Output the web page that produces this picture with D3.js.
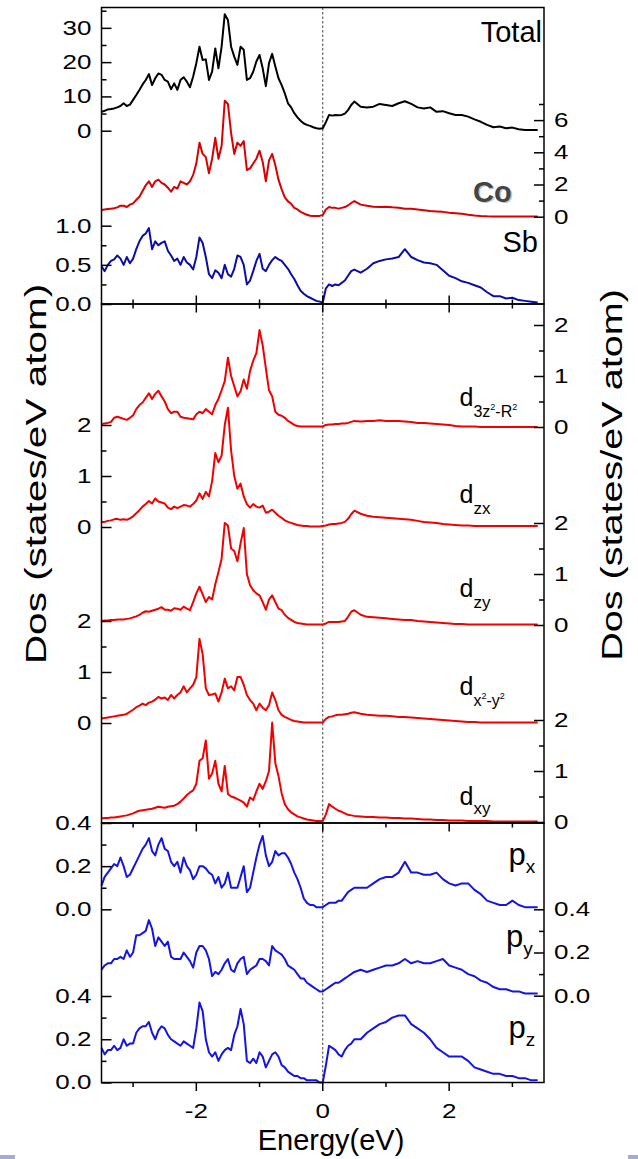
<!DOCTYPE html>
<html>
<head>
<meta charset="utf-8">
<script src="https://cdn.jsdelivr.net/npm/d3@7"></script>
<style>
  body { margin: 0; background: #fff; }
  text { font-family: "Liberation Sans", Arial, sans-serif; }
</style>
</head>
<body>
<div id="chart"></div>
<script>
// energy grid: 0.05 eV steps up to 0.5 eV, 0.1 eV steps beyond
var energy = d3.range(81).map(i => +(-3.5 + i * 0.05).toFixed(2))
    .concat(d3.range(1, 30).map(i => +(0.5 + i * 0.1).toFixed(2)));

// top panel
var total = [5.5, 5.8, 6.2, 6.3, 6.5, 6.8, 7.2, 8.0, 7.2, 7.6,
    9.0, 10.4, 11.9, 13.5, 14.8, 16.5, 13.3, 15.3, 16.7, 16.3,
    14.8, 14.3, 12.1, 13.8, 11.9, 14.8, 15.6, 14.3, 12.7, 15.8,
    19.7, 24.5, 20.6, 20.8, 14.8, 17.2, 24, 18.2, 24.5, 34,
    32.3, 24.5, 21.6, 19.2, 24.5, 23.6, 14.8, 15.3, 17.2, 20.2,
    22.1, 18.2, 13, 19.7, 22.4, 18.7, 15.3, 13.3, 10.9, 8,
    6.8, 5.1, 3.9, 2.9, 2.1, 1.7, 1.4, 1.0, 0.7, 0.6, 0.7,
    2.5, 4.6, 4.4, 4.6, 4.5, 4.6, 5.0, 6.0, 7.5, 8.5,
    7, 6.8, 7, 7.8, 7.5, 7.2, 8, 8.6, 7.8, 6.8, 6.5, 6.8, 5.5, 5.7, 5.1,
    4.6, 4.6, 4.1, 3.3, 2.6, 1.7, 1.0, 1.2, 0.7, 0.9, 0.4, 0.2, 0.2, 0.2];
var co = [0.41, 0.45, 0.48, 0.5, 0.52, 0.58, 0.68, 0.68, 0.6, 0.75,
    0.83, 1.05, 1.24, 1.6, 1.95, 2.2, 1.85, 2.2, 2.3, 2.1,
    2.0, 1.8, 1.55, 1.85, 1.75, 2.2, 2.1, 2.0, 2.2, 2.6,
    3.3, 4.6, 3.9, 3.7, 2.7, 3.6, 4.9, 3.6, 4.4, 7.2,
    7.0, 5.2, 3.9, 4.6, 4.4, 4.7, 2.9, 3.0, 3.3, 3.6,
    4.1, 3.4, 2.2, 3.5, 3.9, 3.2, 2.3, 1.7, 1.2, 0.95,
    0.8, 0.55, 0.45, 0.3, 0.2, 0.12, 0.06, 0.05, 0.05, 0.05, 0.1,
    0.45, 0.6, 0.55, 0.55, 0.5, 0.55, 0.6, 0.7, 0.85, 0.97,
    0.75, 0.68, 0.62, 0.6, 0.62, 0.58, 0.55, 0.5, 0.5, 0.45, 0.4, 0.35, 0.33, 0.3, 0.25,
    0.22, 0.18, 0.12, 0.08, 0.05, 0.03, 0.02, 0.02, 0.01, 0.01, 0.01, 0.01, 0.01, 0.01];
var sb = [0.48, 0.42, 0.5, 0.55, 0.57, 0.62, 0.58, 0.5, 0.6, 0.52,
    0.58, 0.7, 0.8, 0.87, 0.9, 0.97, 0.7, 0.8, 0.75, 0.78,
    0.8, 0.68, 0.62, 0.55, 0.58, 0.5, 0.6, 0.53, 0.5, 0.44,
    0.6, 0.85, 0.78, 0.6, 0.38, 0.33, 0.43, 0.4, 0.33, 0.5,
    0.38, 0.35, 0.45, 0.62, 0.6, 0.5, 0.25, 0.3, 0.42, 0.55,
    0.64, 0.45, 0.42, 0.5, 0.56, 0.6, 0.57, 0.55, 0.5, 0.45,
    0.38, 0.32, 0.24, 0.17, 0.13, 0.1, 0.08, 0.06, 0.04, 0.03, 0.02,
    0.2, 0.25, 0.23, 0.25, 0.24, 0.27, 0.3, 0.36, 0.42, 0.44,
    0.4, 0.45, 0.52, 0.55, 0.57, 0.58, 0.6, 0.7, 0.6, 0.56, 0.53, 0.52, 0.5, 0.43, 0.36,
    0.33, 0.29, 0.27, 0.24, 0.21, 0.15, 0.1, 0.1, 0.07, 0.08, 0.05, 0.04, 0.03, 0.02];

// middle panel: Co d orbitals
var d3z2 = [0.06, 0.07, 0.08, 0.1, 0.18, 0.2, 0.18, 0.16, 0.14, 0.18,
    0.23, 0.35, 0.43, 0.48, 0.57, 0.66, 0.55, 0.65, 0.71, 0.6,
    0.5, 0.35, 0.27, 0.3, 0.3, 0.2, 0.18, 0.17, 0.16, 0.15,
    0.25, 0.3, 0.27, 0.35, 0.3, 0.25, 0.43, 0.55, 0.72, 0.9,
    1.36, 1.0, 0.8, 0.6, 0.7, 0.93, 0.75, 1.1, 1.3, 1.45,
    1.9, 1.6, 1.15, 0.72, 0.6, 0.3, 0.24, 0.22, 0.18, 0.12,
    0.08, 0.04, 0.02, 0.01, 0.01, 0.01, 0.01, 0.01, 0.01, 0.01, 0.01,
    0.04, 0.05, 0.05, 0.06, 0.06, 0.07, 0.07, 0.08, 0.1, 0.12,
    0.11, 0.12, 0.12, 0.13, 0.12, 0.12, 0.12, 0.11, 0.1, 0.08, 0.08, 0.07, 0.06, 0.05, 0.04,
    0.02, 0.01, 0.01, 0.01, 0, 0, 0, 0, 0, 0, 0, 0, 0, 0];
var dzx = [0.1, 0.1, 0.12, 0.13, 0.15, 0.16, 0.14, 0.15, 0.14, 0.17,
    0.21, 0.27, 0.33, 0.4, 0.45, 0.51, 0.46, 0.56, 0.5, 0.48,
    0.46, 0.38, 0.35, 0.4, 0.37, 0.4, 0.43, 0.42, 0.4, 0.45,
    0.52, 0.66, 0.55, 0.69, 0.6, 0.9, 1.45, 1.27, 1.4, 2.0,
    2.34, 1.5, 1.0, 0.75, 0.85, 0.6, 0.45, 0.38, 0.45, 0.4,
    0.38, 0.42, 0.28, 0.3, 0.34, 0.28, 0.22, 0.18, 0.13, 0.1,
    0.08, 0.06, 0.04, 0.03, 0.02, 0.02, 0.01, 0.01, 0.01, 0.01, 0.02,
    0.03, 0.05, 0.06, 0.06, 0.07, 0.08, 0.1, 0.16, 0.25, 0.32,
    0.26, 0.22, 0.2, 0.19, 0.18, 0.17, 0.16, 0.15, 0.14, 0.12, 0.1, 0.09, 0.08, 0.06, 0.05,
    0.04, 0.03, 0.03, 0.02, 0.02, 0.02, 0.02, 0.02, 0.02, 0.02, 0.02, 0.02, 0.02, 0.02];
var dzy = [0.08, 0.09, 0.09, 0.1, 0.1, 0.11, 0.11, 0.11, 0.12, 0.13,
    0.15, 0.17, 0.2, 0.24, 0.27, 0.26, 0.28, 0.3, 0.32, 0.35,
    0.3, 0.3, 0.28, 0.33, 0.32, 0.3, 0.36, 0.32, 0.29, 0.45,
    0.62, 0.75, 0.6, 0.45, 0.55, 0.5, 0.8, 1.04, 1.3, 2.0,
    1.95, 1.5, 1.45, 1.25, 1.6, 1.9, 1.0, 0.78, 0.68, 0.62,
    0.58, 0.45, 0.3, 0.5, 0.58, 0.45, 0.32, 0.29, 0.2, 0.14,
    0.1, 0.06, 0.04, 0.03, 0.02, 0.01, 0.01, 0.01, 0.01, 0.01, 0.01,
    0.03, 0.06, 0.06, 0.06, 0.06, 0.07, 0.08, 0.16, 0.26, 0.29,
    0.2, 0.16, 0.15, 0.14, 0.13, 0.12, 0.11, 0.1, 0.1, 0.08, 0.07, 0.06, 0.05, 0.04, 0.03,
    0.02, 0.02, 0.01, 0.01, 0.01, 0.01, 0.01, 0.01, 0.01, 0.01, 0.01, 0.01, 0.01, 0.01];
var dx2y2 = [0.09, 0.1, 0.11, 0.12, 0.13, 0.14, 0.15, 0.16, 0.18, 0.22,
    0.26, 0.31, 0.34, 0.38, 0.35, 0.4, 0.42, 0.46, 0.51, 0.48,
    0.5, 0.45, 0.55, 0.48, 0.55, 0.6, 0.72, 0.6, 0.68, 0.75,
    0.9, 1.65, 1.35, 0.68, 0.55, 0.56, 0.58, 0.42, 0.6, 0.87,
    0.68, 0.72, 0.64, 0.9, 0.9, 0.75, 0.55, 0.45, 0.38, 0.25,
    0.38, 0.3, 0.25, 0.35, 0.6, 0.45, 0.25, 0.16, 0.12, 0.09,
    0.06, 0.04, 0.03, 0.02, 0.01, 0.01, 0.01, 0.01, 0.01, 0.01, 0.01,
    0.08, 0.12, 0.13, 0.15, 0.16, 0.16, 0.17, 0.18, 0.2, 0.21,
    0.18, 0.16, 0.15, 0.14, 0.14, 0.13, 0.12, 0.12, 0.11, 0.1, 0.09, 0.08, 0.07, 0.06, 0.05,
    0.04, 0.03, 0.02, 0.02, 0.01, 0.01, 0.01, 0.01, 0.01, 0.01, 0.01, 0.01, 0.01, 0.01];
var dxy = [0.07, 0.08, 0.08, 0.09, 0.09, 0.1, 0.11, 0.12, 0.13, 0.15,
    0.17, 0.2, 0.22, 0.23, 0.24, 0.25, 0.26, 0.28, 0.3, 0.29,
    0.28, 0.3, 0.31, 0.32, 0.35, 0.4, 0.46, 0.53, 0.58, 0.62,
    0.75, 1.2, 1.25, 1.6, 0.85, 0.95, 1.2, 0.75, 0.6, 1.1,
    0.55, 0.5, 0.48, 0.45, 0.42, 0.38, 0.3, 0.48, 0.43, 0.6,
    0.75, 0.65, 0.8, 1.0, 1.95, 1.15, 0.9, 0.56, 0.35, 0.25,
    0.19, 0.15, 0.11, 0.09, 0.07, 0.05, 0.04, 0.03, 0.02, 0.02, 0.02,
    0.15, 0.35, 0.3, 0.26, 0.22, 0.2, 0.17, 0.14, 0.13, 0.12,
    0.11, 0.1, 0.1, 0.09, 0.09, 0.08, 0.08, 0.07, 0.07, 0.06, 0.05, 0.05, 0.04, 0.04, 0.03,
    0.03, 0.03, 0.02, 0.02, 0.02, 0.02, 0.01, 0.01, 0.01, 0.01, 0.01, 0.01, 0.01, 0.01];

// bottom panel: Sb p orbitals
var px = [0.11, 0.15, 0.17, 0.19, 0.21, 0.2, 0.24, 0.2, 0.15, 0.16,
    0.19, 0.22, 0.25, 0.28, 0.3, 0.33, 0.27, 0.25, 0.3, 0.33,
    0.28, 0.27, 0.22, 0.2, 0.22, 0.17, 0.24, 0.2, 0.18, 0.14,
    0.16, 0.2, 0.2, 0.19, 0.17, 0.16, 0.12, 0.15, 0.1, 0.12,
    0.17, 0.1, 0.1, 0.1, 0.15, 0.2, 0.08, 0.1, 0.17, 0.24,
    0.3, 0.34, 0.25, 0.2, 0.22, 0.27, 0.25, 0.26, 0.26, 0.24,
    0.21, 0.17, 0.14, 0.1, 0.05, 0.03, 0.02, 0.02, 0.01, 0.01, 0.01,
    0.02, 0.03, 0.03, 0.03, 0.04, 0.04, 0.06, 0.08, 0.09, 0.1,
    0.1, 0.1, 0.12, 0.14, 0.15, 0.15, 0.17, 0.22, 0.17, 0.17, 0.16, 0.16, 0.17, 0.14, 0.12,
    0.11, 0.12, 0.12, 0.09, 0.07, 0.04, 0.03, 0.02, 0.02, 0.04, 0.02, 0.01, 0.01, 0.01];
var py = [0.12, 0.14, 0.15, 0.15, 0.17, 0.17, 0.18, 0.17, 0.21, 0.18,
    0.2, 0.28, 0.28, 0.29, 0.3, 0.35, 0.31, 0.23, 0.27, 0.25,
    0.23, 0.25, 0.18, 0.17, 0.17, 0.17, 0.2, 0.18, 0.16, 0.13,
    0.2, 0.23, 0.23, 0.21, 0.17, 0.09, 0.11, 0.1, 0.12, 0.15,
    0.17, 0.12, 0.11, 0.15, 0.17, 0.18, 0.1, 0.12, 0.13, 0.14,
    0.17, 0.17, 0.16, 0.14, 0.23, 0.21, 0.2, 0.19, 0.17, 0.14,
    0.13, 0.12, 0.1, 0.08, 0.08, 0.06, 0.05, 0.04, 0.03, 0.02, 0.02,
    0.03, 0.04, 0.05, 0.06, 0.06, 0.07, 0.08, 0.09, 0.1, 0.11,
    0.12, 0.11, 0.12, 0.13, 0.14, 0.14, 0.15, 0.17, 0.15, 0.16, 0.15, 0.15, 0.16, 0.17, 0.14,
    0.13, 0.12, 0.1, 0.09, 0.07, 0.06, 0.04, 0.03, 0.03, 0.02, 0.02, 0.01, 0.01, 0.01];
var pz = [0.16, 0.13, 0.15, 0.15, 0.17, 0.15, 0.16, 0.2, 0.17, 0.18,
    0.18, 0.23, 0.25, 0.26, 0.26, 0.28, 0.23, 0.2, 0.24, 0.26,
    0.25, 0.22, 0.2, 0.19, 0.18, 0.17, 0.19, 0.18, 0.17, 0.16,
    0.25, 0.37, 0.33, 0.2, 0.14, 0.12, 0.14, 0.1, 0.13, 0.15,
    0.16, 0.15, 0.22, 0.26, 0.34, 0.27, 0.1, 0.09, 0.11, 0.09,
    0.14, 0.12, 0.07, 0.1, 0.13, 0.14, 0.12, 0.08, 0.07, 0.05,
    0.04, 0.03, 0.03, 0.02, 0.02, 0.01, 0.01, 0.01, 0.01, 0.0, 0.0,
    0.08, 0.17, 0.16, 0.15, 0.13, 0.12, 0.15, 0.17, 0.18, 0.2,
    0.2, 0.23, 0.25, 0.27, 0.28, 0.3, 0.31, 0.31, 0.27, 0.25, 0.23, 0.2, 0.16, 0.14, 0.12,
    0.12, 0.12, 0.1, 0.07, 0.06, 0.05, 0.04, 0.04, 0.03, 0.03, 0.02, 0.02, 0.01, 0.01];

var svgWidth = 638;
var svgHeight = 1159;
var left = 101.5, right = 544;
var panelTop = 7.5, cut1 = 304, cut2 = 823, panelBottom = 1082.5;
var stretch = 1.3; // tick labels and axis titles are drawn wide in the original

var svg = d3.select("#chart")
    .append("svg")
    .attr("width", svgWidth)
    .attr("height", svgHeight)
    .style("display", "block");

var xScale = d3.scaleLinear().domain([-3.5, 3.5]).range([left, right]);

// one y scale per curve, each curve has its own zero line
var yTotal = d3.scaleLinear().domain([0, 35]).range([130.7, 10.7]);
var yCo = d3.scaleLinear().domain([0, 7]).range([216.7, 104]);
var ySb = d3.scaleLinear().domain([0, 1]).range([304, 225.7]);
var yD3z2 = d3.scaleLinear().domain([0, 2]).range([427, 325]);
var yDzx = d3.scaleLinear().domain([0, 2]).range([527, 425]);
var yDzy = d3.scaleLinear().domain([0, 2]).range([625, 523]);
var yDx2y2 = d3.scaleLinear().domain([0, 2]).range([723, 621]);
var yDxy = d3.scaleLinear().domain([0, 2]).range([822, 720]);
var yPx = d3.scaleLinear().domain([0, 0.4]).range([909.3, 823]);
var yPy = d3.scaleLinear().domain([0, 0.4]).range([995.7, 909.3]);
var yPz = d3.scaleLinear().domain([0, 0.4]).range([1082.5, 996]);

var curves = [
    {values: total, y: yTotal, color: "#000000"},
    {values: co, y: yCo, color: "#d80000"},
    {values: sb, y: ySb, color: "#0c0ca8"},
    {values: d3z2, y: yD3z2, color: "#f20000"},
    {values: dzx, y: yDzx, color: "#f20000"},
    {values: dzy, y: yDzy, color: "#f20000"},
    {values: dx2y2, y: yDx2y2, color: "#f20000"},
    {values: dxy, y: yDxy, color: "#f20000"},
    {values: px, y: yPx, color: "#1414e6"},
    {values: py, y: yPy, color: "#1414e6"},
    {values: pz, y: yPz, color: "#1414e6"}
];

// Fermi level
svg.append("line")
    .attr("x1", xScale(0)).attr("x2", xScale(0))
    .attr("y1", panelTop).attr("y2", panelBottom)
    .attr("stroke", "#444")
    .attr("stroke-width", 1)
    .attr("stroke-dasharray", "2.5,2");

curves.forEach(c => {
    var line = d3.line()
        .x((d, i) => xScale(energy[i]))
        .y(d => c.y(d));
    svg.append("path")
        .datum(c.values)
        .attr("d", line)
        .attr("fill", "none")
        .attr("stroke", c.color)
        .attr("stroke-width", 2)
        .attr("stroke-linejoin", "round");
});

// frames
[[panelTop, cut1], [cut1, cut2], [cut2, panelBottom]].forEach(p => {
    svg.append("rect")
        .attr("x", left).attr("y", p[0])
        .attr("width", right - left).attr("height", p[1] - p[0])
        .attr("fill", "none").attr("stroke", "#000").attr("stroke-width", 1.5);
});

// y axes helper
function yAxis(scale, side, major, minor, fmt) {
    var xpos = side === "left" ? left : right;
    var gen = side === "left" ? d3.axisLeft : d3.axisRight;
    var gMinor = svg.append("g").attr("transform", `translate(${xpos},0)`)
        .call(gen(scale).tickValues(minor).tickSize(-5).tickFormat(""));
    var gMajor = svg.append("g").attr("transform", `translate(${xpos},0)`)
        .call(gen(scale).tickValues(major).tickSize(-10).tickPadding(10).tickFormat(fmt));
    [gMinor, gMajor].forEach(g => {
        g.select(".domain").remove();
        g.selectAll("line").attr("stroke-width", 1.5);
    });
    gMajor.selectAll("text")
        .attr("font-size", 20).attr("fill", "#000")
        .attr("font-family", "Liberation Sans, Arial, sans-serif")
        .each(function() {
            var t = d3.select(this);
            var x = +t.attr("x");
            t.attr("x", 0).attr("transform", `translate(${x},0) scale(${stretch},1)`);
        });
}
var f0 = d3.format("d"), f1 = d3.format(".1f");
yAxis(yTotal, "left", [0, 10, 20, 30], [5, 15, 25, 35], f0);
yAxis(ySb, "left", [0, 0.5, 1], [0.25, 0.75], f1);
yAxis(yCo, "right", [0, 2, 4, 6], [1, 3, 5, 7], f0);
yAxis(yDzx, "left", [0, 1, 2], [0.5, 1.5], f0);
yAxis(yDx2y2, "left", [0, 1, 2], [0.5, 1.5], f0);
yAxis(yD3z2, "right", [0, 1, 2], [0.5, 1.5], f0);
yAxis(yDzy, "right", [0, 1, 2], [0.5, 1.5], f0);
yAxis(yDxy, "right", [0, 1, 2], [0.5, 1.5], f0);
yAxis(yPx, "left", [0, 0.2, 0.4], [0.1, 0.3], f1);
yAxis(yPz, "left", [0, 0.2, 0.4], [0.1, 0.3], f1);
yAxis(yPy, "right", [0, 0.2, 0.4], [0.1, 0.3], f1);

// x ticks on each panel boundary
function xTicks(ypos, up, down, labels) {
    [[-3, -1, 1, 3], [-2, 0, 2]].forEach((vals, k) => {
        var len = k === 0 ? 4.5 : 8.5;
        svg.append("g").selectAll("line").data(vals).join("line")
            .attr("x1", d => xScale(d)).attr("x2", d => xScale(d))
            .attr("y1", ypos - (up ? len : 0)).attr("y2", ypos + (down ? len : 0))
            .attr("stroke", "#000").attr("stroke-width", 1.5);
    });
    if (labels) {
        svg.append("g").selectAll("text").data([-2, 0, 2]).join("text")
            .attr("transform", d => `translate(${xScale(d)},${ypos + 35}) scale(${stretch},1)`)
            .attr("text-anchor", "middle").attr("font-size", 20)
            .text(d => d < 0 ? "-" + Math.abs(d) : String(d));
    }
}
xTicks(cut1, true, true, false);
xTicks(cut2, false, true, false);
xTicks(panelBottom, false, true, true);

// axis titles
svg.append("text")
    .attr("transform", `translate(46,474) rotate(-90) scale(${stretch + 0.05},1)`)
    .attr("text-anchor", "middle").attr("font-size", 30)
    .text("Dos (states/eV atom)");
svg.append("text")
    .attr("transform", `translate(622,475) rotate(-90) scale(${stretch + 0.02},1)`)
    .attr("text-anchor", "middle").attr("font-size", 30)
    .text("Dos (states/eV atom)");
svg.append("text")
    .attr("x", 331).attr("y", 1150)
    .attr("text-anchor", "middle").attr("font-size", 29)
    .text("Energy(eV)");

// curve names
svg.append("text").attr("x", 542).attr("y", 41.5)
    .attr("text-anchor", "end").attr("font-size", 29).text("Total");
svg.append("text").attr("x", 474.5).attr("y", 203)
    .attr("font-size", 29).attr("font-weight", "bold").attr("fill", "#c4c4c4").text("Co");
svg.append("text").attr("x", 473).attr("y", 201.5)
    .attr("font-size", 29).attr("font-weight", "bold").attr("fill", "#444").text("Co");
svg.append("text").attr("x", 538).attr("y", 251.5)
    .attr("text-anchor", "end").attr("font-size", 29).text("Sb");

// orbital labels: letter, position, subscript pieces [text, isSuperscript]
function orbital(letter, x, y, size, subSize, pieces, subDy) {
    var t = svg.append("text").attr("x", x).attr("y", y).attr("font-size", size);
    t.append("tspan").text(letter);
    var shift = 0;
    pieces.forEach(p => {
        var target = subDy + (p[1] ? -7 : 0);
        t.append("tspan")
            .attr("dy", target - shift)
            .attr("font-size", p[1] ? 9 : subSize)
            .text(p[0]);
        shift = target;
    });
}
orbital("d", 459.5, 406, 25, 16, [["3z", 0], ["2", 1], ["-R", 0], ["2", 1]], 11);
orbital("d", 459.5, 503, 25, 17, [["zx", 0]], 11);
orbital("d", 459.5, 597, 25, 17, [["zy", 0]], 11);
orbital("d", 459.5, 695, 25, 16, [["x", 0], ["2", 1], ["-y", 0], ["2", 1]], 11);
orbital("d", 459.5, 805, 25, 17, [["xy", 0]], 9);
orbital("p", 508.5, 865, 31, 19, [["x", 0]], 8);
orbital("p", 506, 946.5, 31, 19, [["y", 0]], 8);
orbital("p", 508.5, 1037.5, 31, 19, [["z", 0]], 8);

// small bars at the bottom edge of the screenshot
svg.append("rect").attr("x", 0).attr("y", 1155).attr("width", 15).attr("height", 4).attr("fill", "#9fb0cc");
svg.append("rect").attr("x", 628).attr("y", 1155).attr("width", 10).attr("height", 4).attr("fill", "#9fb0cc");
</script>
</body>
</html>
